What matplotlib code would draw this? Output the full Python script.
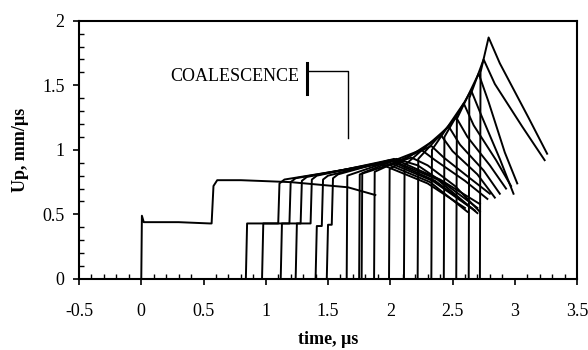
"""
Particle velocity histories: two-wave structure coalescing into a single shock.
"""
import matplotlib
matplotlib.use("Agg")
import matplotlib.pyplot as plt
from matplotlib.ticker import MultipleLocator

plt.rcParams['font.family'] = ['Liberation Serif', 'DejaVu Serif']

# gauge at t = 0 (elastic precursor + second wave)
g0_t = [-0.10, 0.00, 0.005, 0.02, 0.30, 0.55, 0.565, 0.58, 0.61, 0.80, 1.20, 1.66, 1.88]
g0_v = [0.00, 0.00, 0.49, 0.44, 0.44, 0.43, 0.43, 0.72, 0.765, 0.765, 0.75, 0.71, 0.65]

# two-wave gauges: first arrival, precursor level, second arrival, second level
tw_arr1 = [0.84, 0.97, 1.12, 1.24, 1.40, 1.49]
tw_lev1 = [0.43, 0.43, 0.43, 0.43, 0.41, 0.42]
tw_arr2 = [1.10, 1.19, 1.28, 1.36, 1.45, 1.53]
tw_lev2 = [0.77, 0.78, 0.79, 0.80, 0.80, 0.81]
tw_pk_t = [1.92, 1.95, 1.97, 1.99, 2.01, 2.03]
tw_pk_v = [0.89, 0.90, 0.91, 0.92, 0.92, 0.93]
tw_md_t = [2.30, 2.32, 2.34, 2.36, 2.38, 2.40]
tw_md_v = [0.74, 0.75, 0.76, 0.76, 0.77, 0.77]
tw_end_t = [2.60, 2.62, 2.65, 2.68, 2.70, 2.72]
tw_end_v = [0.55, 0.52, 0.55, 0.53, 0.51, 0.58]

# single-shock gauges (after coalescence)
sh_arr = [1.65, 1.75, 1.77, 1.87, 1.99, 2.11, 2.22, 2.33, 2.43, 2.53, 2.63, 2.72]
sh_lev = [0.80, 0.81, 0.82, 0.83, 0.85, 0.88, 0.93, 1.00, 1.10, 1.24, 1.40, 1.60]
sh_pk_t = [2.05, 2.17, 2.25, 2.33, 2.41, 2.47, 2.53, 2.59, 2.65, 2.71, 2.75, 2.79]
sh_pk_v = [0.93, 0.94, 1.00, 1.03, 1.11, 1.18, 1.25, 1.36, 1.46, 1.59, 1.70, 1.87]
sh_m1_t = [2.22, 2.30, 2.36, 2.43, 2.50, 2.56, 2.62, 2.67, 2.73, 2.79, 2.84, 2.88]
sh_m1_v = [0.88, 0.88, 0.92, 0.94, 0.99, 1.04, 1.10, 1.19, 1.27, 1.37, 1.51, 1.67]
sh_m2_t = [2.45, 2.52, 2.60, 2.64, 2.70, 2.75, 2.80, 2.85, 2.88, 2.92, 3.06, 3.11]
sh_m2_v = [0.73, 0.72, 0.76, 0.78, 0.81, 0.84, 0.88, 0.92, 0.93, 0.98, 1.18, 1.25]
sh_end_t = [2.70, 2.72, 2.78, 2.80, 2.84, 2.88, 2.93, 2.97, 2.99, 3.02, 3.24, 3.26]
sh_end_v = [0.55, 0.52, 0.62, 0.66, 0.63, 0.66, 0.70, 0.72, 0.66, 0.74, 0.92, 0.97]

xticks = [-0.5, 0, 0.5, 1, 1.5, 2, 2.5, 3, 3.5]
xticklabels = ['-0.5', '0', '0.5', '1', '1.5', '2', '2.5', '3', '3.5']
yticks = [0, 0.5, 1, 1.5, 2]
yticklabels = ['0', '0.5', '1', '1.5', '2']

fig = plt.figure(figsize=(5.88, 3.5), dpi=100)
ax = fig.add_axes([0.1344, 0.2029, 0.8469, 0.738])

lw = 1.4
ax.plot(g0_t, g0_v, color='black', lw=lw)

for i in range(len(tw_arr1)):
    t = [-0.10, tw_arr1[i], tw_arr1[i] + 0.01, tw_arr2[i], tw_arr2[i] + 0.01,
         tw_arr2[i] + 0.05, tw_pk_t[i], tw_md_t[i], tw_end_t[i]]
    v = [0, 0, tw_lev1[i], tw_lev1[i], tw_lev2[i] - 0.03,
         tw_lev2[i], tw_pk_v[i], tw_md_v[i], tw_end_v[i]]
    ax.plot(t, v, color='black', lw=lw)

for i in range(len(sh_arr)):
    t = [-0.10, sh_arr[i], sh_arr[i] + 0.005, sh_pk_t[i],
         sh_m1_t[i], sh_m2_t[i], sh_end_t[i]]
    v = [0, 0, sh_lev[i], sh_pk_v[i], sh_m1_v[i], sh_m2_v[i], sh_end_v[i]]
    ax.plot(t, v, color='black', lw=lw)

# coalescence marker
ax.plot([1.335, 1.335], [1.43, 1.67], color='black', lw=2.2)
ax.plot([1.335, 1.664, 1.664], [1.614, 1.614, 1.09], color='black', lw=1.0)
ax.text(1.265, 1.57, 'COALESCENCE', ha='right', va='center', fontsize=13)

ax.set_xlim(-0.5, 3.5)
ax.set_ylim(0, 2)
ax.set_xticks(xticks)
ax.set_xticklabels(xticklabels)
ax.set_yticks(yticks)
ax.set_yticklabels(yticklabels)
ax.xaxis.set_minor_locator(MultipleLocator(0.1))
ax.yaxis.set_minor_locator(MultipleLocator(0.1))
ax.tick_params(which='major', direction='out', length=4.5, width=1.2,
               labelsize=13, colors='black')
ax.tick_params(axis='x', which='major', pad=13)
ax.tick_params(axis='y', which='major', pad=6)
ax.tick_params(which='minor', direction='in', length=3.5, width=1.0)
for s in ax.spines.values():
    s.set_linewidth(1.5)

ax.set_ylabel('Up, mm/µs', fontsize=13, fontweight='bold')
ax.yaxis.set_label_coords(-0.1, 0.5)
fig.text(0.5578, 0.016, 'time, µs', ha='center', va='baseline',
         fontsize=13, fontweight='bold')

fig.savefig('out.png', dpi=100)
